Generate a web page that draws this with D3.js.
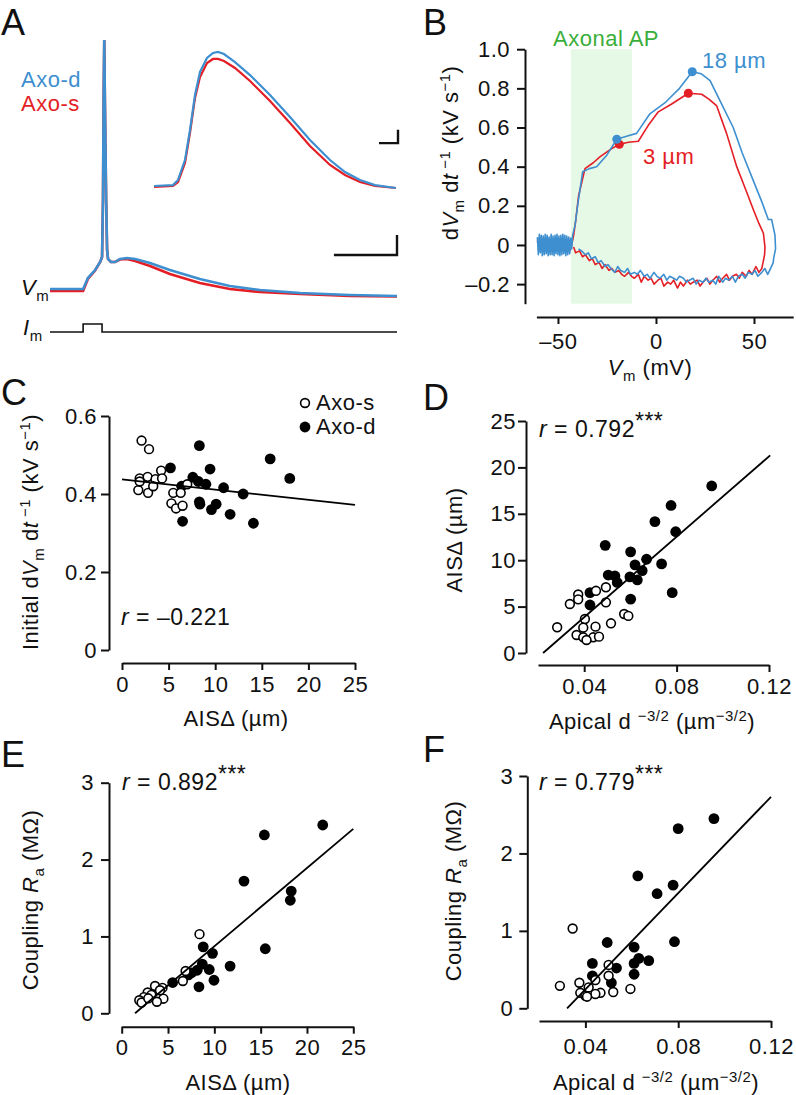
<!DOCTYPE html>
<html>
<head>
<meta charset="utf-8">
<script src="https://cdn.jsdelivr.net/npm/d3@7"></script>
<style>
  body { margin: 0; background: #fff; }
  svg text { font-family: "Liberation Sans", Arial, sans-serif; fill: #111; letter-spacing: 0.5px; }
</style>
</head>
<body>
<script>
// Figure: axonal AP recordings (A, B) and AIS / coupling scatter plots (C-F)

var blue = "#3d8fd0", red = "#e41e25", green = "#3aae3a";

// ---- panel A: somatic Vm traces (ms, mV) ----
var aTime = [0, 10.5, 12, 14.3, 15.9, 16.5, 16.8, 17, 17.2, 17.4, 17.8, 18.1, 18.4, 19.3, 20.6, 22.2, 24.4, 27, 31.7, 38, 47.5, 57, 66.6, 79.3, 95, 110];
var aBlue = [-69.6, -69.6, -65.2, -62, -58.8, -56.8, -34, 6, 30, 6, -34, -54, -57.6, -58.8, -58.8, -57.6, -57.2, -57.6, -59.2, -62, -65.6, -68.4, -70, -71.2, -72, -72.4];
var aRed  = [-70.4, -70.4, -65.6, -62.2, -58.8, -56.8, -34, 6, 30, 6, -34, -54, -57.6, -58.8, -58.8, -57.8, -57.6, -58.4, -60.4, -63.6, -67.2, -69.6, -70.8, -71.6, -72.4, -72.6];
// inset (expanded spike)
var insTime = [0, 0.19, 0.24, 0.31, 0.36, 0.41, 0.46, 0.53, 0.59, 0.64, 0.70, 0.81, 0.96, 1.16, 1.36, 1.56, 1.76, 1.91, 2.06, 2.21, 2.42];
var insBlue = [-70, -69.3, -65.5, -50.6, -28.2, -2.1, 15.1, 25.5, 29.3, 30, 28.5, 22.5, 12.8, -2.1, -18.5, -35.7, -50.6, -59.6, -65.5, -69.3, -71.5];
var insRed  = [-70.7, -70, -67, -52.8, -30.4, -4.3, 11.3, 21.8, 24.8, 24.8, 23.3, 18.1, 8.4, -6.6, -23, -40.1, -54.3, -61.8, -67, -70, -71.5];
// current step
var imTime = [0, 10.5, 10.5, 16.5, 16.5, 110];
var imVal = [0, 0, 1, 1, 0, 0];

// ---- panel B: phase plots (mV, kV/s) ----
var bBlueV = [-60.5, -60, -59.5, -59, -58.5, -58, -57.5, -57, -56.5, -56, -55.5, -55, -54.5, -54, -53.5, -53, -52.5, -52, -51.5, -51, -50.5, -50, -49.5, -49, -48.5, -48, -47.5, -47, -46.5, -46, -45.5, -45, -44.5, -44, -43.5, -43,
  -42.5, -41.3, -40, -38.5, -37.4, -34, -30.3, -25, -20, -15, -9.9, -3.1, 5, 12, 18.5, 23, 27.6, 33, 39.4, 44, 49.6, 54, 57.3, 59, 60.7, 61, 60, 59.8, 58,
  57, 55.5, 54, 52, 50.5, 49, 47, 45.5, 44, 42, 40.5, 39, 37, 35.5, 34, 32, 30.5, 29, 27, 25.5, 24, 22, 20.5, 19, 17, 15.5, 14, 12, 10.5, 9, 7, 5.5, 4, 2, 0.5, -1, -3, -4.5, -6, -8, -9.5, -11, -13, -14.5, -16, -18, -19.5, -21, -23, -24.5, -26, -28, -29.5, -31, -33, -34.5, -36, -38, -39.5, -41, -43];
var bBlueD = [0.04, -0.05, 0.055, -0.04, 0.05, -0.055, 0.045, -0.05, 0.055, -0.045, 0.05, -0.055, 0.04, -0.05, 0.055, -0.05, 0.045, -0.055, 0.05, -0.045, 0.055, -0.05, 0.045, -0.055, 0.05, -0.05, 0.055, -0.045, 0.05, -0.055, 0.045, -0.05, 0.04, -0.045, 0.035, -0.02,
  0.05, 0.10, 0.2, 0.3, 0.374, 0.39, 0.40, 0.46, 0.54, 0.555, 0.57, 0.67, 0.73, 0.80, 0.885, 0.875, 0.84, 0.73, 0.60, 0.47, 0.33, 0.22, 0.13, 0.13, 0.05, -0.02, -0.07, -0.09, -0.13,
  -0.15, -0.12, -0.14, -0.16, -0.13, -0.15, -0.14, -0.17, -0.15, -0.16, -0.19, -0.16, -0.18, -0.17, -0.19, -0.16, -0.2, -0.18, -0.19, -0.17, -0.19, -0.18, -0.2, -0.17, -0.18, -0.19, -0.17, -0.16, -0.18, -0.17, -0.16, -0.18, -0.15, -0.17, -0.16, -0.14, -0.17, -0.15, -0.16, -0.13, -0.15, -0.14, -0.15, -0.12, -0.14, -0.13, -0.11, -0.14, -0.12, -0.1, -0.11, -0.08, -0.09, -0.06, -0.07, -0.04, -0.05, -0.03, -0.02];
var bRedV = [-60.5, -59, -57.5, -56, -54.5, -53, -51.5, -50, -48.5, -47, -45.5, -44, -43,
  -42, -41, -39.5, -36.2, -32, -28.6, -23, -18.7, -14, -9, -4, 1.2, 8, 16.5, 23.3, 27, 31, 36, 41.2, 45.5, 49.7, 52.5, 54.8, 55.6, 55.4, 54.8,
  54, 52.5, 51, 49, 47.5, 46, 44, 42.5, 41, 39, 37.5, 36, 34, 32.5, 31, 29, 27.5, 26, 24, 22.5, 21, 19, 17.5, 16, 14, 12.5, 11, 9, 7.5, 6, 4, 2.5, 1, -1, -2.5, -4, -6, -7.5, -9, -11, -12.5, -14, -16, -17.5, -19, -21, -22.5, -24, -26, -27.5, -29, -31, -32.5, -34, -36, -37.5, -39, -41, -42];
var bRedD = [0.02, -0.03, 0.03, -0.02, 0.03, -0.03, 0.02, -0.03, 0.03, -0.02, 0.03, -0.03, 0,
  0.05, 0.12, 0.25, 0.39, 0.42, 0.45, 0.49, 0.514, 0.525, 0.53, 0.61, 0.68, 0.72, 0.775, 0.77, 0.745, 0.71, 0.57, 0.40, 0.29, 0.18, 0.11, 0.06, -0.01, -0.05, -0.08,
  -0.12, -0.14, -0.11, -0.15, -0.13, -0.16, -0.14, -0.17, -0.15, -0.16, -0.18, -0.15, -0.17, -0.19, -0.16, -0.18, -0.2, -0.17, -0.19, -0.21, -0.18, -0.19, -0.2, -0.18, -0.21, -0.19, -0.22, -0.18, -0.2, -0.19, -0.21, -0.17, -0.18, -0.2, -0.17, -0.18, -0.16, -0.19, -0.15, -0.17, -0.16, -0.14, -0.16, -0.15, -0.13, -0.14, -0.12, -0.13, -0.1, -0.12, -0.09, -0.1, -0.07, -0.08, -0.05, -0.06, -0.03, -0.04, -0.01];
var bBlueDots = [[-20, 0.54], [18.5, 0.885]];
var bRedDots = [[-18.7, 0.514], [16.5, 0.775]];
var bBand = [-43.4, -12.2];

// ---- panel C: AISdelta vs initial dV/dt ----
var cOpenX = [2.1, 2.9, 4.2, 1.9, 2.75, 3.6, 1.75, 2.8, 3.35, 4.3, 5.5, 6.3, 7.0, 5.3, 5.8, 6.5, 1.9];
var cOpenY = [0.537, 0.515, 0.46, 0.44, 0.444, 0.438, 0.41, 0.403, 0.42, 0.44, 0.403, 0.403, 0.425, 0.376, 0.363, 0.37, 0.432];
var cFillX = [8.3, 5.2, 9.45, 15.9, 18.0, 7.6, 8.2, 9.0, 6.4, 10.9, 13.0, 8.3, 8.36, 10.1, 9.6, 11.6, 6.5, 14.1];
var cFillY = [0.524, 0.467, 0.464, 0.49, 0.44, 0.443, 0.432, 0.425, 0.42, 0.416, 0.40, 0.38, 0.374, 0.374, 0.36, 0.348, 0.33, 0.325];
var cFit = [[0, 0.4377], [25, 0.372]];

// ---- panel D: apical d^-3/2 vs AISdelta ----
var dOpenX = [0.0374, 0.0451, 0.0494, 0.0338, 0.0374, 0.0494, 0.0573, 0.0591, 0.0403, 0.0283, 0.0396, 0.0449, 0.0516, 0.0367, 0.0396, 0.0439, 0.0464, 0.041];
var dOpenY = [6.3, 6.7, 7.08, 5.28, 5.78, 5.46, 4.2, 4.0, 3.66, 2.77, 2.73, 2.84, 3.2, 1.94, 1.69, 1.69, 1.76, 1.4];
var dFillX = [0.0952, 0.0776, 0.0706, 0.0796, 0.0491, 0.0601, 0.067, 0.0735, 0.062, 0.0651, 0.0504, 0.0533, 0.0598, 0.063, 0.0543, 0.0781, 0.0425, 0.0601, 0.0425];
var dFillY = [18.0, 15.9, 14.15, 13.07, 11.6, 10.9, 10.1, 9.6, 9.5, 8.87, 8.4, 8.3, 8.2, 7.87, 7.6, 6.5, 6.5, 5.8, 5.17];
var dFit = [[0.0222, 0], [0.1205, 21.3]];

// ---- panel E: AISdelta vs coupling Ra ----
var eOpenX = [8.4, 6.9, 6.6, 3.6, 4.4, 2.8, 3.2, 2.4, 1.9, 2.15, 4.5, 3.8, 4.13, 2.87];
var eOpenY = [1.03, 0.55, 0.42, 0.355, 0.33, 0.27, 0.24, 0.21, 0.17, 0.14, 0.19, 0.15, 0.30, 0.195];
var eFillX = [21.7, 15.4, 13.2, 18.3, 18.2, 15.5, 8.8, 9.8, 11.7, 8.7, 9.45, 8.15, 7.55, 9.96, 8.34, 5.5, 7.2];
var eFillY = [2.45, 2.32, 1.72, 1.59, 1.47, 0.84, 0.865, 0.78, 0.614, 0.64, 0.57, 0.56, 0.527, 0.43, 0.345, 0.40, 0.50];
var eFit = [[1.44, 0], [25, 2.40]];

// ---- panel F: apical d^-3/2 vs coupling Ra ----
var fOpenX = [0.0345, 0.05, 0.05, 0.0443, 0.029, 0.0374, 0.0414, 0.0378, 0.0465, 0.052, 0.0594, 0.040, 0.0443, 0.0407];
var fOpenY = [1.03, 0.56, 0.42, 0.365, 0.29, 0.33, 0.27, 0.20, 0.20, 0.21, 0.25, 0.16, 0.185, 0.15];
var fFillX = [0.0954, 0.080, 0.0626, 0.0778, 0.0709, 0.0784, 0.0494, 0.061, 0.0673, 0.063, 0.061, 0.043, 0.0534, 0.061, 0.043, 0.0512];
var fFillY = [2.45, 2.32, 1.71, 1.59, 1.48, 0.86, 0.85, 0.79, 0.615, 0.645, 0.58, 0.58, 0.52, 0.44, 0.42, 0.33];
var fFit = [[0.0321, 0], [0.12, 2.73]];

var FS = 22;

var svg = d3.select("body").append("svg")
  .attr("width", 796)
  .attr("height", 1095);

function zip(xs, ys) { return xs.map(function(x, i) { return [x, ys[i]]; }); }

// text with italic / sub / sup / star pieces
function rich(sel, parts) {
  var shift = 0;
  parts.forEach(function(p) {
    var want = p[1] === "sub" ? 6 : (p[1] === "sup" || p[1] === "star") ? -8 : 0;
    var t = sel.append("tspan").text(p[0]);
    if (want !== shift) { t.attr("dy", want - shift); shift = want; }
    if (p[1] === "i") t.style("font-style", "italic");
    if (p[1] === "sub" || p[1] === "sup") t.style("font-size", "68%");
  });
  return sel;
}

function label(txt, x, y) {
  svg.append("text").attr("x", x).attr("y", y).attr("font-size", 36).style("letter-spacing", "0px").text(txt);
}

var dash = function(d) { return d < 0 ? "\u2013" + Math.abs(d) : "" + d; };

function axes(o) {
  var gx = svg.append("g").attr("transform", "translate(0," + o.xAt + ")")
    .call(d3.axisBottom(o.x).tickValues(o.xTicks).tickSize(7).tickSizeOuter(0).tickPadding(o.xPad).tickFormat(o.xFmt));
  var gy = svg.append("g").attr("transform", "translate(" + o.yAt + ",0)")
    .call(d3.axisLeft(o.y).tickValues(o.yTicks).tickSize(8).tickSizeOuter(0).tickPadding(o.yPad).tickFormat(o.yFmt));
  [gx, gy].forEach(function(g) {
    g.attr("font-family", null).attr("font-size", null);
    g.selectAll("path, line").attr("stroke", "#111").attr("stroke-width", 2);
    g.selectAll("text").attr("font-size", FS).attr("fill", "#111");
  });
}

function scatter(x, y, open, filled, fit) {
  var line = d3.line().x(function(d) { return x(d[0]); }).y(function(d) { return y(d[1]); });
  svg.append("g").selectAll("circle").data(filled).enter().append("circle")
    .attr("cx", function(d) { return x(d[0]); })
    .attr("cy", function(d) { return y(d[1]); })
    .attr("r", 5.4).attr("fill", "#000");
  svg.append("g").selectAll("circle").data(open).enter().append("circle")
    .attr("cx", function(d) { return x(d[0]); })
    .attr("cy", function(d) { return y(d[1]); })
    .attr("r", 4.4).attr("fill", "#fff").attr("stroke", "#000").attr("stroke-width", 1.6);
  svg.append("path").datum(fit).attr("d", line).attr("fill", "none").attr("stroke", "#000").attr("stroke-width", 1.8);
}

function yTitle(x, y, parts) {
  rich(svg.append("text").attr("transform", "translate(" + x + "," + y + ") rotate(-90)")
    .attr("text-anchor", "middle").attr("font-size", FS), parts);
}
function xTitle(x, y, parts) {
  rich(svg.append("text").attr("x", x).attr("y", y).attr("text-anchor", "middle").attr("font-size", FS), parts);
}
function rText(x, y, val, stars) {
  var t = svg.append("text").attr("x", x).attr("y", y).attr("font-size", 23);
  rich(t, [["r", "i"], [" = " + val, ""]].concat(stars ? [["***", "star"]] : []));
}

// ================= A =================
label("A", 1, 35);
var ax = d3.scaleLinear().domain([0, 110]).range([50, 397]);
var ay = d3.scaleLinear().domain([-70, 30]).range([290, 40]);
var ix = d3.scaleLinear().domain([0, 2.42]).range([154, 396]);
var iy = d3.scaleLinear().domain([-70, 30]).range([186, 52]);
var imy = d3.scaleLinear().domain([0, 1]).range([332, 324]);

var lineA = d3.line().x(function(d) { return ax(d[0]); }).y(function(d) { return ay(d[1]); });
var lineI = d3.line().x(function(d) { return ix(d[0]); }).y(function(d) { return iy(d[1]); });
svg.append("path").datum(zip(aTime, aRed)).attr("d", lineA).attr("fill", "none").attr("stroke", red).attr("stroke-width", 2.6);
svg.append("path").datum(zip(aTime, aBlue)).attr("d", lineA).attr("fill", "none").attr("stroke", blue).attr("stroke-width", 2.6);
svg.append("path").datum(zip(insTime, insRed)).attr("d", lineI).attr("fill", "none").attr("stroke", red).attr("stroke-width", 2.2);
svg.append("path").datum(zip(insTime, insBlue)).attr("d", lineI).attr("fill", "none").attr("stroke", blue).attr("stroke-width", 2.2);
svg.append("path").datum(zip(imTime, imVal))
  .attr("d", d3.line().x(function(d) { return ax(d[0]); }).y(function(d) { return imy(d[1]); }))
  .attr("fill", "none").attr("stroke", "#111").attr("stroke-width", 1.6);

// scale bars
var barMain = { t: 110, v: -56, dt: 20, dv: 8 };
var barIns = { t: 2.44, v: -38, dt: 0.19, dv: 10 };
svg.append("path").attr("fill", "none").attr("stroke", "#111").attr("stroke-width", 2.4)
  .attr("d", "M" + ax(barMain.t - barMain.dt) + "," + ay(barMain.v) + "H" + ax(barMain.t) + "V" + ay(barMain.v + barMain.dv));
svg.append("path").attr("fill", "none").attr("stroke", "#111").attr("stroke-width", 2.4)
  .attr("d", "M" + ix(barIns.t - barIns.dt) + "," + iy(barIns.v) + "H" + ix(barIns.t) + "V" + iy(barIns.v + barIns.dv));

svg.append("text").attr("x", 21).attr("y", 87).attr("font-size", FS).style("fill", blue).text("Axo-d");
svg.append("text").attr("x", 21).attr("y", 111).attr("font-size", FS).style("fill", red).text("Axo-s");
rich(svg.append("text").attr("x", 21).attr("y", 295).attr("font-size", FS), [["V", "i"], ["m", "sub"]]);
rich(svg.append("text").attr("x", 23).attr("y", 335).attr("font-size", FS), [["I", "i"], ["m", "sub"]]);

// ================= B =================
label("B", 423, 35);
var bx = d3.scaleLinear().domain([-61, 70]).range([536.4, 793.2]);
var by = d3.scaleLinear().domain([-0.3, 1.0]).range([303.7, 49.2]);
svg.append("rect").attr("x", bx(bBand[0])).attr("width", bx(bBand[1]) - bx(bBand[0]))
  .attr("y", by(1.0)).attr("height", by(-0.3) - by(1.0)).attr("fill", "#e6f9e6");
svg.append("text").attr("x", 553).attr("y", 46).attr("font-size", FS).style("fill", green).text("Axonal AP");
axes({ x: bx, y: by, xAt: 317, yAt: 525, xTicks: [-50, 0, 50], yTicks: [-0.2, 0, 0.2, 0.4, 0.6, 0.8, 1.0],
  xPad: 9, yPad: 7, xFmt: dash, yFmt: function(d) { return d === 0 ? "0" : (d < 0 ? "\u2013" : "") + Math.abs(d).toFixed(1); } });
var lineB = d3.line().x(function(d) { return bx(d[0]); }).y(function(d) { return by(d[1]); });
svg.append("path").datum(zip(bRedV, bRedD)).attr("d", lineB).attr("fill", "none").attr("stroke", red).attr("stroke-width", 1.6).attr("stroke-linejoin", "round");
svg.append("path").datum(zip(bBlueV, bBlueD)).attr("d", lineB).attr("fill", "none").attr("stroke", blue).attr("stroke-width", 1.6).attr("stroke-linejoin", "round");
svg.selectAll(".rdot").data(bRedDots).enter().append("circle").attr("cx", function(d) { return bx(d[0]); }).attr("cy", function(d) { return by(d[1]); }).attr("r", 4.5).attr("fill", red);
svg.selectAll(".bdot").data(bBlueDots).enter().append("circle").attr("cx", function(d) { return bx(d[0]); }).attr("cy", function(d) { return by(d[1]); }).attr("r", 4.5).attr("fill", blue);
svg.append("text").attr("x", 702).attr("y", 68).attr("font-size", FS).style("fill", blue).text("18 \u00b5m");
svg.append("text").attr("x", 643).attr("y", 164).attr("font-size", FS).style("fill", red).text("3 \u00b5m");
yTitle(458, 153, [["d", ""], ["V", "i"], ["m", "sub"], [" d", ""], ["t", "i"], [" \u22121", "sup"], [" (kV s", ""], ["\u22121", "sup"], [")", ""]]);
xTitle(650, 375, [["V", "i"], ["m", "sub"], [" (mV)", ""]]);

// ================= C =================
label("C", 1, 405);
var cx = d3.scaleLinear().domain([0, 25]).range([122, 355]);
var cy = d3.scaleLinear().domain([0, 0.6]).range([650, 416]);
axes({ x: cx, y: cy, xAt: 663, yAt: 109, xTicks: [0, 5, 10, 15, 20, 25], yTicks: [0, 0.2, 0.4, 0.6],
  xPad: 6, yPad: 4, xFmt: dash, yFmt: function(d) { return d === 0 ? "0" : d.toFixed(1); } });
scatter(cx, cy, zip(cOpenX, cOpenY), zip(cFillX, cFillY), cFit);
svg.append("circle").attr("cx", 305).attr("cy", 403).attr("r", 4.4).attr("fill", "#fff").attr("stroke", "#000").attr("stroke-width", 1.6);
svg.append("circle").attr("cx", 305).attr("cy", 427).attr("r", 5.4).attr("fill", "#000");
svg.append("text").attr("x", 316).attr("y", 410).attr("font-size", FS).text("Axo-s");
svg.append("text").attr("x", 316).attr("y", 434).attr("font-size", FS).text("Axo-d");
rText(121, 625, "\u20130.221", false);
yTitle(38, 532, [["Initial d", ""], ["V", "i"], ["m", "sub"], [" d", ""], ["t", "i"], [" \u22121", "sup"], [" (kV s", ""], ["\u22121", "sup"], [")", ""]]);
xTitle(236, 726, [["AIS\u0394 (\u00b5m)", ""]]);

// ================= D =================
label("D", 423, 410);
var dx = d3.scaleLinear().domain([0.02, 0.12]).range([538, 769]);
var dy = d3.scaleLinear().domain([0, 25]).range([653, 421]);
axes({ x: dx, y: dy, xAt: 665, yAt: 526, xTicks: [0.04, 0.08, 0.12], yTicks: [0, 5, 10, 15, 20, 25],
  xPad: 6, yPad: 2, xFmt: function(d) { return d.toFixed(2); }, yFmt: function(d) { return "" + d; } });
scatter(dx, dy, zip(dOpenX, dOpenY), zip(dFillX, dFillY), dFit);
rText(539, 437, "0.792", true);
yTitle(462, 540, [["AIS\u0394 (\u00b5m)", ""]]);
xTitle(652, 729, [["Apical d ", ""], ["\u22123/2", "sup"], [" (\u00b5m", ""], ["\u22123/2", "sup"], [")", ""]]);

// ================= E =================
label("E", 1, 767);
var ex = d3.scaleLinear().domain([0, 25]).range([121.7, 353.3]);
var ey = d3.scaleLinear().domain([0, 3]).range([1013.3, 782.7]);
axes({ x: ex, y: ey, xAt: 1026.7, yAt: 109, xTicks: [0, 5, 10, 15, 20, 25], yTicks: [0, 1, 2, 3],
  xPad: 6, yPad: 7, xFmt: dash, yFmt: function(d) { return "" + d; } });
scatter(ex, ey, zip(eOpenX, eOpenY), zip(eFillX, eFillY), eFit);
rText(122, 790, "0.892", true);
yTitle(38, 900, [["Coupling ", ""], ["R", "i"], ["a", "sub"], [" (M\u03a9)", ""]]);
xTitle(238, 1090, [["AIS\u0394 (\u00b5m)", ""]]);

// ================= F =================
label("F", 423, 762);
var fx = d3.scaleLinear().domain([0.02, 0.12]).range([539, 771]);
var fy = d3.scaleLinear().domain([0, 3]).range([1008.3, 776]);
axes({ x: fx, y: fy, xAt: 1021, yAt: 527.3, xTicks: [0.04, 0.08, 0.12], yTicks: [0, 1, 2, 3],
  xPad: 10, yPad: 6, xFmt: function(d) { return d.toFixed(2); }, yFmt: function(d) { return "" + d; } });
scatter(fx, fy, zip(fOpenX, fOpenY), zip(fFillX, fFillY), fFit);
rText(539, 790, "0.779", true);
yTitle(461, 891, [["Coupling ", ""], ["R", "i"], ["a", "sub"], [" (M\u03a9)", ""]]);
xTitle(656, 1090, [["Apical d ", ""], ["\u22123/2", "sup"], [" (\u00b5m", ""], ["\u22123/2", "sup"], [")", ""]]);
</script>
</body>
</html>
